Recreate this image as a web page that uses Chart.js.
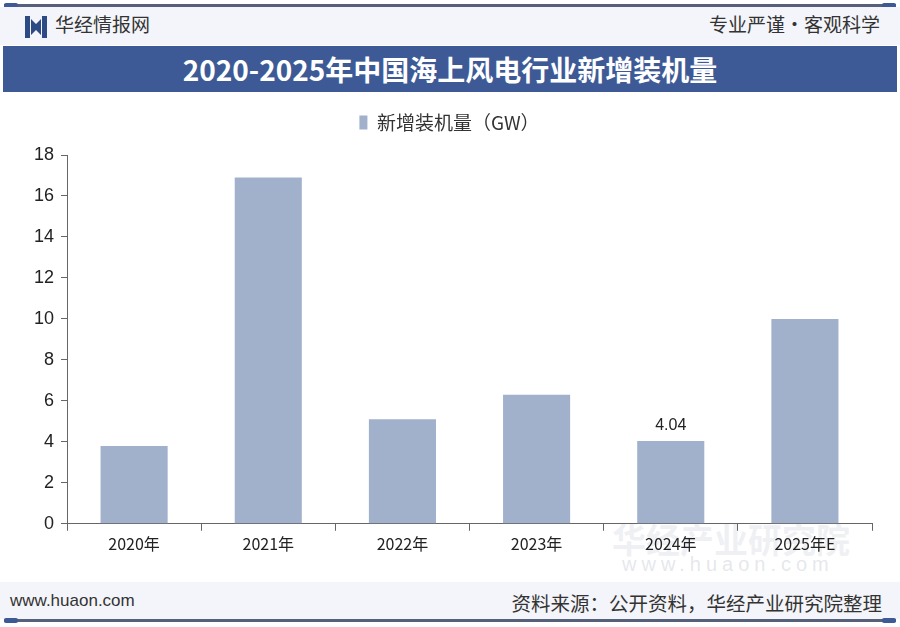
<!DOCTYPE html>
<html><head><meta charset="utf-8">
<script src="https://cdn.jsdelivr.net/npm/chart.js@4"></script>
<style>
html,body{margin:0;padding:0;width:900px;height:627px;overflow:hidden;background:#fff;font-family:"Noto Sans CJK SC","Noto Sans",sans-serif;}
#page{position:relative;width:900px;height:627px;}
.line{position:absolute;left:4px;right:4px;height:3px;background:#56607a;}
.cap{position:absolute;width:14px;height:5px;background:#3d5a96;border-radius:2px;}
#hdr{position:absolute;left:0;top:7px;width:900px;height:38px;background:#f3f5fa;}
#brand{position:absolute;left:55px;top:12px;font-size:19px;color:#333;line-height:24px;}
#motto{position:absolute;right:20px;top:12px;font-size:19px;color:#333;line-height:24px;}
#title{position:absolute;left:3px;right:3px;top:46px;height:46px;background:#3d5a96;color:#fff;font-weight:bold;font-size:28px;text-align:center;line-height:46px;}
#ftr{position:absolute;left:0;top:582px;width:900px;height:37px;background:#f3f5fa;}
#site{position:absolute;left:10px;top:591px;font-family:"Liberation Sans",Arial,sans-serif;font-size:17px;color:#333;}
#src{position:absolute;right:18px;top:588px;font-size:19.5px;color:#333;}
#wm{position:absolute;left:612px;top:514px;font-size:34px;color:rgba(200,205,215,0.3);font-weight:bold;}
#wm2{position:absolute;left:622px;top:553px;font-family:"Liberation Sans",Arial,sans-serif;font-size:20px;letter-spacing:5px;color:rgba(190,195,205,0.4);}
#cw{position:absolute;left:0;top:87px;width:900px;height:493px;}
</style></head>
<body><div id="page">
<div class="line" style="top:4px"></div>
<div class="cap" style="left:4px;top:3px"></div><div class="cap" style="right:4px;top:3px"></div>
<div id="hdr"></div>
<svg style="position:absolute;left:25px;top:16px" width="22" height="22" viewBox="0 0 22 22">
<path d="M0 0 L5 0 L5 22 L0 22 Z M6 3 L11 8 L11 14 L6 19 Z M16 3 L11 8 L11 14 L16 19 Z M17 0 L22 0 L22 22 L17 22 Z" fill="#2d4a85"/></svg>
<div id="brand">华经情报网</div>
<div id="motto">专业严谨•客观科学</div>
<div id="wm">华经产业研究院</div>
<div id="wm2">www.huaon.com</div>
<div id="cw"><canvas id="c" width="900" height="493"></canvas></div>
<div id="title">2020-2025年中国海上风电行业新增装机量</div>
<div id="ftr"></div>
<div id="site">www.huaon.com</div>
<div id="src">资料来源：公开资料，华经产业研究院整理</div>
<div class="line" style="top:619px"></div>
<div class="cap" style="left:4px;top:618px"></div><div class="cap" style="right:4px;top:618px"></div>
</div>
<script>
const categories = ["2020年","2021年","2022年","2023年","2024年","2025年E"];
const seriesName = "新增装机量（GW）";
const values = [3.8, 16.9, 5.1, 6.3, 4.04, 10.0];
const labelIndices = [4];
const yTicks = [0,2,4,6,8,10,12,14,16,18];

const labelPlugin = {
  id:'lbl',
  afterDatasetsDraw(chart){
    const ctx = chart.ctx;
    const meta = chart.getDatasetMeta(0);
    ctx.save();
    ctx.font = '16px "Liberation Sans", Arial, sans-serif';
    ctx.fillStyle = '#222';
    ctx.textAlign = 'center';
    ctx.textBaseline = 'bottom';
    labelIndices.forEach(i=>{
      const el = meta.data[i];
      ctx.fillText(values[i].toFixed(2), el.x, el.y - 7);
    });
    ctx.restore();
  }
};
const legendGap = {
  id:'legendGap',
  beforeInit(chart){
    const orig = chart.legend.fit;
    chart.legend.fit = function(){ orig.bind(chart.legend)(); this.height += 13; };
  }
};

new Chart(document.getElementById('c'), {
  type:'bar',
  data:{labels:categories, datasets:[{label:seriesName, data:values, backgroundColor:'#a1b0cb', borderWidth:0, categoryPercentage:1, barPercentage:0.5}]},
  options:{
    responsive:false, animation:false,
    layout:{padding:{left:27,right:28,top:0,bottom:22}},
    plugins:{
      legend:{display:true, position:'top', labels:{boxWidth:8, boxHeight:14, padding:26, color:'#333', font:{family:'"Noto Sans CJK SC"', size:19}}},
      tooltip:{enabled:false}
    },
    scales:{
      x:{grid:{display:true, drawOnChartArea:false, drawTicks:true, tickLength:7, color:'#666', offset:true},
         border:{display:true,color:'#666',width:1},
         ticks:{color:'#222', font:{family:'"Noto Sans CJK SC"', size:16}, padding:4}},
      y:{min:0,max:18,
         afterBuildTicks(axis){ axis.ticks = yTicks.map(v=>({value:v})); },
         grid:{display:true, drawOnChartArea:false, drawTicks:true, tickLength:6, color:'#666'},
         border:{display:true,color:'#666',width:1},
         ticks:{color:'#222', font:{family:'"Liberation Sans", Arial, sans-serif', size:18}, padding:7}}
    }
  },
  plugins:[labelPlugin, legendGap]
});
</script>
</body></html>
